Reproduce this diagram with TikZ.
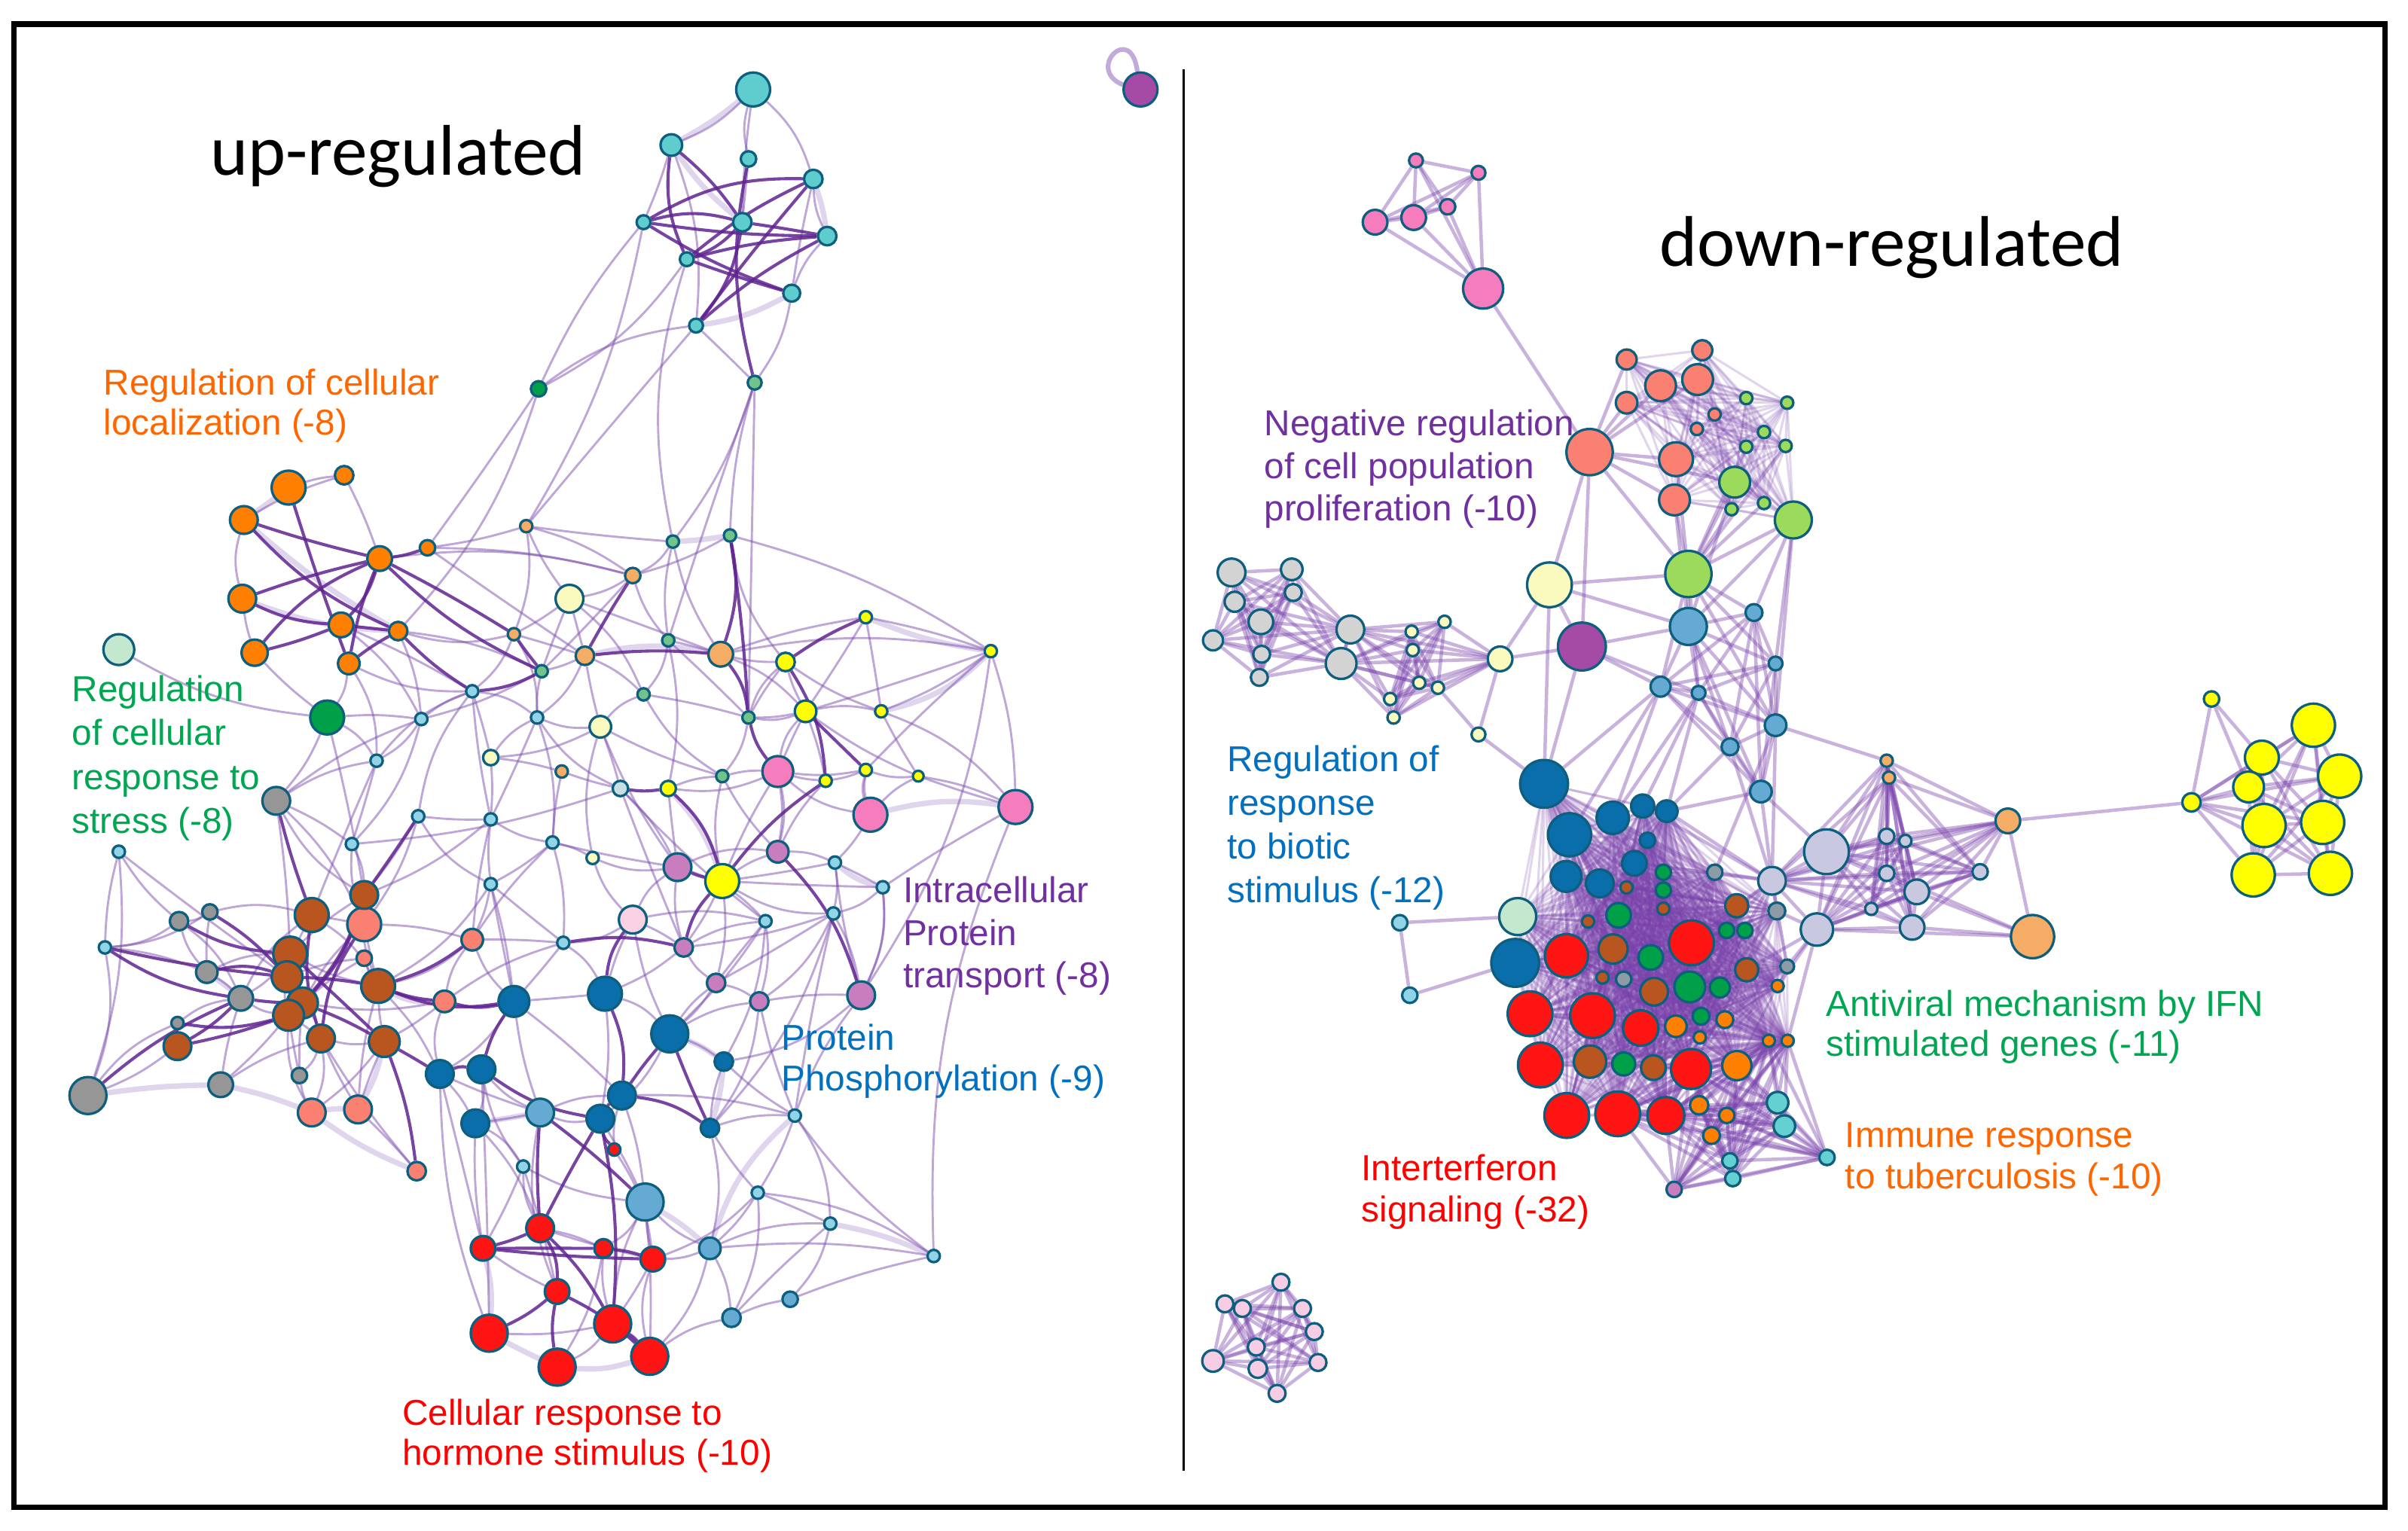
\documentclass[tikz,border=0pt]{standalone}
\usepackage{fontspec}
\setmainfont{Liberation Sans}
\newfontfamily\titlefont{Carlito}
\usetikzlibrary{backgrounds}
\definecolor{ring}{RGB}{14,94,126}
\definecolor{cyanT}{RGB}{95,205,205}
\definecolor{cyanS}{RGB}{145,212,232}
\definecolor{greenS}{RGB}{112,196,138}
\definecolor{dgreen}{RGB}{0,160,72}
\definecolor{nodepurple}{RGB}{165,75,165}
\definecolor{orangeN}{RGB}{255,128,0}
\definecolor{palegreen}{RGB}{195,232,205}
\definecolor{lorange}{RGB}{245,172,100}
\definecolor{pyel}{RGB}{250,250,190}
\definecolor{yel}{RGB}{255,255,0}
\definecolor{lgcy}{RGB}{200,222,228}
\definecolor{pinkN}{RGB}{245,125,190}
\definecolor{greyN}{RGB}{150,150,150}
\definecolor{mauve}{RGB}{200,125,190}
\definecolor{lpink}{RGB}{250,210,228}
\definecolor{salmon}{RGB}{250,128,114}
\definecolor{brownN}{RGB}{185,85,30}
\definecolor{dblue}{RGB}{10,110,170}
\definecolor{lblue}{RGB}{100,170,210}
\definecolor{redN}{RGB}{255,20,20}
\definecolor{lgreen}{RGB}{155,218,90}
\definecolor{lgrey}{RGB}{211,211,211}
\definecolor{lavender}{RGB}{200,200,225}
\definecolor{cyanR}{RGB}{100,208,210}
\definecolor{ltpink}{RGB}{246,205,228}
\definecolor{greyB}{RGB}{140,155,165}
\definecolor{edS}{RGB}{95,35,145}
\definecolor{edL}{RGB}{125,80,175}
\definecolor{edW}{RGB}{150,115,195}
\definecolor{edR}{RGB}{120,65,170}
\definecolor{labOrange}{RGB}{255,102,0}
\definecolor{labGreen}{RGB}{0,166,81}
\definecolor{labPurple}{RGB}{112,48,160}
\definecolor{labBlue}{RGB}{0,112,192}
\definecolor{labRed}{RGB}{255,0,0}
\newcommand\mkclique[2]{%
  \foreach \ca [count=\ci] in {#2}{%
    \foreach \cb [count=\cj] in {#2}{%
      \ifnum\ci<\cj \draw[#1] (\ca) -- (\cb);\fi}}}
\newcommand\edgeset[2]{%
  \foreach \ea/\eb in {#2}{%
    \pgfmathsetmacro\eg{rand*16}%
    \draw[#1] (\ea) to[bend left=\eg] (\eb);}}
\newcommand\labtext[2]{\vtop{\baselineskip=#1\relax #2}}
\begin{document}
\begin{tikzpicture}[x=1pt,y=-1pt,
  n/.style={circle,draw=ring,line width=1.6pt,inner sep=0pt,minimum size=#1},
  es/.style={draw=edS,line width=2pt,opacity=0.85},
  el/.style={draw=edL,line width=1.4pt,opacity=0.5},
  ew/.style={draw=edW,line width=3.5pt,opacity=0.3},
  er/.style={draw=edR,line width=2.2pt,opacity=0.4},
  erd/.style={draw=edR,line width=1.5pt,opacity=0.22},
  lab/.style={inner sep=0pt,anchor=base west,font=\fontsize{23.3pt}{26pt}\selectfont},
  ttl/.style={inner sep=0pt,anchor=base west,font=\titlefont\fontsize{46.5pt}{50pt}\selectfont}]
\useasboundingbox (0,0) rectangle (1560.3,992.2);
\pgfmathsetseed{4242}
\draw[line width=3.5pt] (9,15.6) rectangle (1545.5,976.7);
\draw[line width=1.2pt] (767,45) -- (767,953);
% ---------------- left panel nodes ----------------
\foreach \q/\x/\y/\s in {c1/488/58/22,c2/435/94/14,c3/485/103/10,c4/527/116/12,c5/417/144/9,c6/481/144/12,c7/536/153/12,c8/445/168/9,c9/513/190/11,c10/451/211/9}
  \node[n=\s,fill=cyanT] (\q) at (\x,\y) {};
\foreach \q/\x/\y/\s in {c11/489/248/9,m2/436/351/8,m3/473/347/8,m7/433/415/8,m10/351/435/8,m15/417/450/8,m21/485/465/8,m26/468/503/8}
  \node[n=\s,fill=greenS] (\q) at (\x,\y) {};
\foreach \q/\x/\y/\s in {g1/349/252/10,dg1/212/465/22}
  \node[n=\s,fill=dgreen] (\q) at (\x,\y) {};
\node[n=22,fill=nodepurple] (pl) at (739,58) {};
\foreach \q/\x/\y/\s in {o1/187/316/22,o2/223/308/12,o3/158/337/18,o4/157/388/18,o5/165/423/17,o6/246/362/16,o7/277/355/10,o8/221/405/16,o9/258/409/12,o10/226/430/14}
  \node[n=\s,fill=orangeN] (\q) at (\x,\y) {};
\node[n=20,fill=palegreen] (lg1) at (77,421) {};
\foreach \q/\x/\y/\s in {m1/341/341/8,m4/410/373/10,m6/333/411/8,m8/467/424/16,m9/379/425/12,m23/364/500/8}
  \node[n=\s,fill=lorange] (\q) at (\x,\y) {};
\foreach \q/\x/\y/\s in {m5/369/388/18,m20/389/471/14,m22/318/491/10,m39/384/556/8}
  \node[n=\s,fill=pyel] (\q) at (\x,\y) {};
\foreach \q/\x/\y/\s in {m11/561/400/8,m12/642/422/8,m13/509/429/12,m16/522/461/14,m17/571/461/8,m25/433/511/10,m28/535/506/8,m29/561/499/8,m30/595/503/7,y1/468/571/22}
  \node[n=\s,fill=yel] (\q) at (\x,\y) {};
\foreach \q/\x/\y/\s in {m14/306/448/8,m18/273/466/8,m19/348/465/8,m33/244/493/8,m34/77/552/8,m35/271/529/8,m36/318/531/8,m37/228/547/8,m38/358/546/8,m40/318/573/8,m41/541/559/8,m42/572/575/8,m43/540/592/8,m44/496/597/8,m45/365/611/8,m46/68/614/8,m48/339/756/8,m49/491/773/8,m50/538/793/8,m51/605/814/8,m52/515/723/8}
  \node[n=\s,fill=cyanS] (\q) at (\x,\y) {};
\node[n=10,fill=lgcy] (m24) at (402,511) {};
\foreach \q/\x/\y/\s in {m27/504/500/20,m31/564/528/22,m32/658/523/22}
  \node[n=\s,fill=pinkN] (\q) at (\x,\y) {};
\foreach \q/\x/\y/\s in {gr1/179/519/18,gr2/116/597/12,gr3/136/591/10,gr4/134/630/14,gr5/156/647/16,m47/115/663/8,gr6/57/710/24,gr7/143/703/16,gr8/194/697/10}
  \node[n=\s,fill=greyN] (\q) at (\x,\y) {};
\foreach \q/\x/\y/\s in {p1/439/562/18,p2/504/552/14,p3/443/614/12,p4/464/637/12,p5/492/649/12,p6/558/645/18}
  \node[n=\s,fill=mauve] (\q) at (\x,\y) {};
\node[n=18,fill=lpink] (lp1) at (410,596) {};
\foreach \q/\x/\y/\s in {s1/306/609/14,s2/236/599/22,s3/236/621/10,s4/288/649/14,s5/202/721/18,s6/232/719/18,s7/270/759/12}
  \node[n=\s,fill=salmon] (\q) at (\x,\y) {};
\foreach \q/\x/\y/\s in {b1/236/580/18,b2/202/593/22,b3/188/618/22,b4/186/633/20,b5/245/639/22,b6/196/650/20,b7/187/658/20,b8/208/673/18,b9/249/675/20,b10/115/678/18}
  \node[n=\s,fill=brownN] (\q) at (\x,\y) {};
\foreach \q/\x/\y/\s in {bl1/333/649/20,bl2/392/644/22,bl3/434/670/24,bl4/469/688/12,bl5/285/696/18,bl6/312/693/18,bl7/403/710/18,bl8/308/728/18,bl9/389/725/18,bl10/460/731/12}
  \node[n=\s,fill=dblue] (\q) at (\x,\y) {};
\foreach \q/\x/\y/\s in {lb1/350/721/18,lb2/418/779/24,lb3/460/809/14,lb4/512/842/10,lb5/474/854/12}
  \node[n=\s,fill=lblue] (\q) at (\x,\y) {};
\foreach \q/\x/\y/\s in {rs1/398/745/8,r1/350/796/18,r2/313/809/16,r3/391/809/12,r4/423/816/16,r5/361/837/16,r6/317/864/24,r7/397/858/24,r8/361/886/24,r9/421/879/24}
  \node[n=\s,fill=redN] (\q) at (\x,\y) {};
% ---------------- right panel nodes ----------------
\foreach \q/\x/\y/\s in {pk1/917.5/104/9,pk2/958/112/9,pk3/891/144/16,pk4/916/141/16,pk5/938/134/10,pk6/961/187/26}
  \node[n=\s,fill=pinkN] (\q) at (\x,\y) {};
\foreach \q/\x/\y/\s in {sa1/1030/293/30,sa2/1054/233/13,sa3/1103/227/13,sa4/1076/250/20,sa5/1100/246/20,sa6/1054/261/14,sa7/1111/268.6/8,sa8/1099.5/278/8,sa9/1086/297.6/22,sa10/1085/324/20}
  \node[n=\s,fill=salmon] (\q) at (\x,\y) {};
\foreach \q/\x/\y/\s in {gn1/1131.5/258/8,gn2/1158/261/8,gn3/1143/280/8,gn4/1131.5/289.5/8,gn5/1157/289/8,gn6/1124/312.5/20,gn7/1122/330/8,gn8/1143/326/8,gn9/1162/337/24,gn10/1094/372/30}
  \node[n=\s,fill=lgreen] (\q) at (\x,\y) {};
\foreach \q/\x/\y/\s in {py1/1004/379/29,py2/972/427/16,py3/958/476/9,py4/914.7/409.4/8,py5/915.4/421.3/8,py6/936/403/8,py7/919.6/442.5/8,py8/931.7/445.7/8,py9/900.8/453/8,py10/903/465/8}
  \node[n=\s,fill=pyel] (\q) at (\x,\y) {};
\node[n=31,fill=nodepurple] (pu1) at (1025,419) {};
\foreach \q/\x/\y/\s in {lbl1/1094/406/24,lbl2/1136.5/397/11,lbl3/1150.5/430/9,lbl4/1076/445/13,lbl5/1100.6/449/9,lbl6/1150.5/470/14,lbl7/1121/484/11,lbl8/1141/513/14}
  \node[n=\s,fill=lblue] (\q) at (\x,\y) {};
\foreach \q/\x/\y/\s in {gy1/798/371/18,gy2/837/369/14,gy3/800/390/13,gy4/838/384/11,gy5/817/403/16,gy6/786/415/13,gy7/817.5/424/11,gy8/816/439/11,gy9/875/408/18,gy10/869/430/20}
  \node[n=\s,fill=lgrey] (\q) at (\x,\y) {};
\foreach \q/\x/\y/\s in {db1/1000.5/508/31,db2/1017/541/28,db3/1045/530/21,db4/1064.4/522.4/15,db5/1080/525.7/14,db6/1067.5/544.6/10,db7/1059/559.5/16,db8/1014.8/568/20,db9/1036.6/572.5/18,db10/981.8/624/31}
  \node[n=\s,fill=dblue] (\q) at (\x,\y) {};
\node[n=24,fill=palegreen] (pg1) at (983.4,594) {};
\foreach \q/\x/\y/\s in {sb1/1053.9/575.1/8,sb2/1029/597.2/8,sb3/1038.4/633.5/8,sb4/1077.8/588.9/8,br1/1045.2/615/19,br2/1071.8/642.7/18,br3/1030.3/688/21,br4/1071.3/691.9/16,br5/1125.3/587/15,br6/1131.8/628.5/15}
  \node[n=\s,fill=brownN] (\q) at (\x,\y) {};
\foreach \q/\x/\y/\s in {gg1/1048.8/593.2/16,gg2/1069.6/620.5/16,gg3/1094.9/639.6/20,gg4/1114.4/640/13,gg5/1102.2/658.6/11,gg6/1052.1/689.5/15,gg7/1077.8/565.3/10,gg8/1077.8/576.9/10,gg9/1118.8/603/10,gg10/1130.6/603/10}
  \node[n=\s,fill=dgreen] (\q) at (\x,\y) {};
\foreach \q/\x/\y/\s in {gs1/1052.1/634.6/10,gs2/1111.1/565.3/10,gs3/1151.3/590.4/11,gs4/1158/626.3/9}
  \node[n=\s,fill=greyB] (\q) at (\x,\y) {};
\foreach \q/\x/\y/\s in {rd1/1015/619.4/28,rd2/1096/611/29,rd3/991.4/657/29,rd4/1031.9/658.2/29,rd5/1063.1/666.2/23,rd6/998.1/690.2/29,rd7/1095.7/692.8/26,rd8/1015.2/722.9/29,rd9/1048.2/721.8/29,rd10/1079.4/722.9/24}
  \node[n=\s,fill=redN] (\q) at (\x,\y) {};
\foreach \q/\x/\y/\s in {or1/1085.9/665.1/14,or2/1125.4/690.6/19,or3/1117.6/660.8/11,or4/1101.4/672.3/8,or5/1146.1/674.5/8,or6/1158.3/674.5/8,or7/1151.8/639/8,or8/1101/716.3/12,or9/1118.9/722.9/10,or10/1109/735.9/11}
  \node[n=\s,fill=orangeN] (\q) at (\x,\y) {};
\foreach \q/\x/\y/\s in {cy1/1151.8/714.6/14,cy2/1156.2/729.8/14,cy3/1120.9/752.3/10,cy4/1122.8/763.8/10,cy5/1183.8/750.1/10}
  \node[n=\s,fill=cyanR] (\q) at (\x,\y) {};
\node[n=10,fill=mauve] (mv1) at (1084.8,770.8) {};
\foreach \q/\x/\y/\s in {cs1/907/598/10,cs2/913.5/645/10}
  \node[n=\s,fill=cyanS] (\q) at (\x,\y) {};
\foreach \q/\x/\y/\s in {lav1/1183.5/552/29,lav2/1148.2/570.8/18,lav3/1177.3/602.4/21,ls1/1222.5/542/10,ls2/1234.6/545/8,ls3/1222.5/566/10,ls4/1242/578/16,ls5/1239/601/16,ls6/1212.5/589/8,ls7/1283/565/10}
  \node[n=\s,fill=lavender] (\q) at (\x,\y) {};
\foreach \q/\x/\y/\s in {lo1/1301/532/16,lo2/1317/607/28,os1/1222.5/493/8,os2/1224/504/8}
  \node[n=\s,fill=lorange] (\q) at (\x,\y) {};
\foreach \q/\x/\y/\s in {yy1/1433/453/10,yy2/1499/470/28,yy3/1465.6/491/22,yy4/1516/503/28,yy5/1457/510/20,yy6/1420/520/12,yy7/1467/535/28,yy8/1505/533/28,yy9/1460/567/28,yy10/1510/566/28}
  \node[n=\s,fill=yel] (\q) at (\x,\y) {};
\foreach \q/\x/\y/\s in {bq1/830/831/11,bq2/793.7/845/11,bq3/805/848/11,bq4/844/848/11,bq5/851.6/863/11,bq6/814/873/11,bq7/786/882/14,bq8/815/887/12,bq9/854/883/11,bq10/827.5/903/11}
  \node[n=\s,fill=ltpink] (\q) at (\x,\y) {};
% ---------------- edges ----------------
\begin{pgfonlayer}{background}
\draw[draw=edW,line width=3pt,opacity=0.6] (pl.165) .. controls (703,45) and (733,14) .. (pl.100);
% left panel
\edgeset{ew}{c4/c7,c9/c10,c1/c2,o1/o3,o4/o9,m2/m3,m31/m32,gr6/gr7,gr7/s5,s5/s6,s7/s5,bl3/bl4,m50/m51,m52/lb3,r2/r6,r6/r8,r7/r9,bl4/bl10,r8/r9,m11/m12,c2/c6,o3/o9,b5/s4,m25/y1,m12/m17,m8/m9,gr4/gr5,s6/b9,lb2/lb3,bl8/lb1,m41/m42,b1/s2}
\edgeset{el}{c1/c2,c1/c3,c1/c4,c1/c6,c2/c5,c2/c10,c9/c11,c10/c11,c5/g1,c10/g1,c11/m3,c11/m2,c3/c6,c4/c7,c7/c9,c4/c9,c8/m2,c5/m1,
g1/o9,g1/o7,o1/o2,o2/o3,o3/o4,o4/o5,lg1/dg1,o5/dg1,o10/dg1,o2/o6,o7/m4,o9/m18,
m1/m4,m1/m6,m1/m5,m2/m4,m3/m4,m2/m7,m3/m13,m4/m5,m4/m10,m5/m15,m5/m10,m6/m9,m7/m8,m9/m15,m9/m19,m10/m18,m10/m19,m8/m12,m11/m16,m11/m12,m11/m17,m12/m17,m12/m29,m13/m16,m13/m17,m16/m17,m16/m30,m17/m30,m16/m28,m16/m27,m15/m26,m15/m20,m15/m21,m21/m26,m25/m26,m25/m27,m26/m27,m27/m28,m27/m29,m28/m29,m29/m30,m27/m31,m26/y1,y1/p2,y1/m42,y1/m41,y1/p4,y1/m43,p2/m41,m41/p6,m41/m42,m42/p6,m43/p6,m43/p5,m44/p5,m44/p4,p3/p4,p3/lp1,p3/m43,p4/p5,p5/p6,p1/lp1,p1/m24,lp1/m45,m45/s1,m45/bl2,m44/bl3,p4/bl3,m20/m24,m20/m39,m19/m22,m14/m22,m18/m33,m22/m36,m22/m23,m23/m38,m23/m24,m36/m38,m38/m39,m35/m36,m35/m40,m36/m40,m37/m33,m37/b1,m33/gr1,gr1/dg1,gr1/m37,m39/p1,m38/p1,m40/s1,m40/m45,m14/m35,m18/m37,
m34/m46,m34/gr2,m34/gr6,m34/b4,gr2/gr5,gr3/b2,gr4/gr5,gr5/b7,gr6/b10,gr7/gr5,gr7/b8,gr8/b7,gr8/b8,s5/b7,s5/b9,s6/b9,s6/b5,s7/s6,b5/m40,s2/s1,s2/b6,s3/b6,m46/gr6,m46/gr3,b3/b5,s1/bl1,s4/bl5,s4/m45,
bl1/bl5,bl1/bl2,bl1/lb1,bl1/bl7,bl2/bl3,bl2/bl9,bl3/bl4,bl4/bl10,bl5/bl8,bl6/bl8,bl6/lb1,bl7/rs1,bl8/lb1,lb1/bl9,bl9/lb2,m48/bl8,m48/r1,m48/lb2,bl7/m52,bl10/m52,m52/m49,m52/m51,m49/m50,m49/lb3,m49/lb5,m50/lb4,m50/lb5,lb4/lb5,lb3/lb5,lb3/lb2,lb2/r4,lb2/r3,lb5/r9,bl8/r2,bl5/r2,m48/r2,lb1/r5,bl6/r6,rs1/r4,
r1/r3,r1/r4,r2/r5,r8/r7,r4/r9,r6/r7,r3/r8,r4/r7,
m32/m17,m32/m12,m32/m30,p6/m52,m52/p5,m31/m29,m31/m41,p6/m12,m51/m32,bl4/m52,p2/m27,m44/bl4,lp1/bl3,m45/bl1,m6/m14,m1/o7,
m24/m37,m19/m36,m21/m13,m8/m16,m20/m26,m7/m25,m14/m33,m36/s1,m35/b1,m22/m20,m39/lp1,m38/m45,m40/bl1,m5/m8,m24/m44,m19/m24,m9/m20,p1/m44,m43/bl10,m42/m32,p5/bl10,m30/m32,
o9/m6,o8/m14,o10/m14,o9/m10,o6/m4,o7/m9,o8/m18,o10/m33,dg1/m18,dg1/b1,dg1/m33,gr1/b1,gr1/b3,gr1/m18,m14/m19,m18/m14,m19/m20,m14/m36,m19/m38,m6/m19,m9/m10,m4/m7,m7/m15,m7/m21,m8/m13,m13/m21,m16/m21,m12/m16,m11/m8,m5/m9,m5/m6,m2/m8,m3/m12,m1/m2,c10/m1,c8/g1,c11/m7,
m20/p1,m24/p3,m25/p1,m26/p2,m21/m16,m27/p2,m28/p2,m29/m31,m30/m31,m27/m16,y1/m27,y1/p3,m41/m43,m42/m43,p2/p1,p1/p3,p4/m43,p6/m42,m44/p3,m44/lp1,s1/m38,m38/m40,m36/b1,m35/s2,m33/b2,gr1/s2,m37/s2,b2/s2,b1/b3,b2/b4,b3/b6,b4/b7,b6/b8,b5/b9,b8/b9,b7/b8,s3/b4,s3/b5,s2/b5,b1/b5,b2/b5,b3/b4,gr5/b3,gr5/b2,gr4/b3,gr2/gr3,gr2/gr4,gr3/gr4,m46/gr4,m46/gr2,gr5/m47,gr6/m47,gr7/b7,gr8/b6,gr8/s5,s5/b8,s6/b8,s7/b8,s4/b9,s4/b6,s1/b5,s1/s4,bl5/b5,bl1/m40,bl2/p3,bl2/lp1,bl3/p4,bl3/p5,bl3/bl9,bl7/lb2,bl10/lb3,bl10/m49,bl4/p6,lb1/bl5,lb1/bl7,bl8/r1,bl5/r6,lb2/r7,lb2/r9,lb3/r9,lb3/r4,m49/r4,m48/r5,m48/bl6,r3/r7,m51/lb3,m51/lb4,m50/lb3,m49/m51,m52/m50,m52/m43}
\edgeset{es}{c2/c6,c5/c6,c5/c7,c5/c4,c8/c4,c8/c7,c8/c6,c10/c6,c10/c4,c10/c7,c3/c11,c6/c7,c2/c8,c5/c9,c8/c9,
o1/o10,o3/o6,o3/o9,o4/o6,o4/o8,o5/o6,o8/o6,o6/o7,o10/o6,o8/o9,o10/o9,o5/o8,o6/m10,o9/m14,o6/m6,
m3/m8,m3/m21,m4/m9,m6/m10,m9/m8,m10/m14,m13/m28,m24/m25,m25/y1,y1/p1,y1/m28,p2/p6,p3/y1,m8/m21,m16/m29,m11/m13,m21/m27,
gr1/b2,m46/gr5,m46/b4,gr3/b4,gr5/b6,b10/b7,b10/gr5,gr6/gr5,s7/b9,b5/s4,b4/b5,b1/b6,b2/b8,b3/b9,s2/b8,gr2/b3,gr4/b4,m47/b7,b6/b9,b1/b7,b5/bl1,b9/bl5,s4/bl1,b5/s1,b1/m35,
bl2/bl7,bl3/bl10,bl5/bl6,bl6/bl9,bl7/bl9,bl9/rs1,bl9/r1,lb1/lb2,bl7/bl10,bl1/bl6,bl3/bl7,m45/p3,lp1/bl2,
r1/r5,r2/r4,r5/r6,r5/r9,r5/r8,r7/r9,r1/r7,bl9/r7,lb1/r1,r1/r2,r3/r4,r2/r3}
\draw[el] (c11) -- (m21);
% right panel
\mkclique{er}{pk1,pk2,pk3,pk4,pk5,pk6}
\draw[er] (pk6) -- (sa1);
\mkclique{erd}{sa2,sa3,sa4,sa5,sa6,sa7,sa8,sa9,sa10,gn1,gn2,gn3,gn4,gn5,gn6,gn7,gn8,gn9}
\foreach \t in {sa2,sa4,sa5,sa6,sa9,sa10,gn6,gn10,pu1,py1}{\draw[er] (sa1) -- (\t);}
\foreach \t in {sa9,sa10,gn6,gn7,gn8,gn9,gn4,gn5,py1,lbl1,lbl2,lbl3,lbl4,lbl5,lbl6}{\draw[er] (gn10) -- (\t);}
\foreach \t in {lbl1,lbl2,lbl3,lbl6}{\draw[er] (gn9) -- (\t);}
\draw[er] (gn6) -- (lbl1); \draw[er] (sa10) -- (lbl1);
\mkclique{er}{lbl1,lbl2,lbl3,lbl4,lbl5,lbl6,lbl7,lbl8}
\foreach \t in {py2,lbl1,db1,pu1}{\draw[er] (py1) -- (\t);}
\foreach \t in {lbl1,lbl4,py2,db1,lbl5}{\draw[er] (pu1) -- (\t);}
\draw[er] (py2) -- (py3); \draw[er] (py3) -- (db1); \draw[er] (py3) -- (py8);
\mkclique{er}{gy1,gy2,gy3,gy4,gy5,gy6,gy7,gy8,gy9,gy10}
\mkclique{er}{gy9,gy10,py4,py5,py6,py7,py8,py9,py10,py2}
\mkclique{erd}{db1,db2,db3,db4,db5,db6,db7,db8,db9,db10,pg1,rd1,rd2,rd3,rd4,rd5,rd6,rd7,rd8,rd9,rd10,br1,br2,br3,br4,br5,br6,sb1,sb2,sb3,sb4,gg1,gg2,gg3,gg4,gg5,gg6,gg7,gg8,gg9,gg10,gs1,gs2,gs3,gs4,or1,or2,or3,or4,or5,or6,or7}
\mkclique{er}{rd7,rd10,rd9,or2,or8,or9,or10,cy1,cy2,cy3,cy4,cy5,mv1,or5,or6}
\draw[er] (pg1) -- (cs1); \draw[er] (cs1) -- (cs2); \draw[er] (cs2) -- (db10);
\foreach \a/\b in {lbl4/db1,lbl4/db3,lbl5/db4,lbl5/db5,lbl7/db5,lbl7/lav2,lbl6/lav2,lbl8/lav2,lbl8/db5,lbl8/lav1,lbl6/os1,lbl6/gs2,lbl4/db2,lbl5/db3}{\draw[er] (\a) -- (\b);}
\mkclique{er}{lav1,lav2,lav3,ls1,ls2,ls3,ls4,ls5,ls6,ls7,lo1,os1,os2}
\foreach \t in {gs2,br5,gs3,rd2,gg9,gg10,db5,db4,br6,gs4,db7}{\draw[er] (lav2) -- (\t);}
\foreach \t in {gs3,gs4,or7,br6,or6}{\draw[er] (lav3) -- (\t);}
\foreach \a/\b in {lo1/yy6,lo1/lo2,lo2/ls4,lo2/ls5,lo2/lav3,lo2/ls3}{\draw[er] (\a) -- (\b);}
\mkclique{er}{yy2,yy3,yy4,yy5,yy6,yy7,yy8,yy9,yy10}
\foreach \t in {yy6,yy3,yy5}{\draw[er] (yy1) -- (\t);}
\mkclique{er}{bq1,bq2,bq3,bq4,bq5,bq6,bq7,bq8,bq9,bq10}
\end{pgfonlayer}
% ---------------- labels ----------------
\node[ttl] (tup) at (136,113.6) {up-regulated};
\node[ttl] (tdown) at (1075,172.7) {down-regulated};
\node[lab,text=labOrange] (l1) at (67,256) {\labtext{25.7pt}{\hbox{Regulation of cellular}\hbox{localization (-8)}}};
\node[lab,text=labGreen] (l2) at (46.5,454.5) {\labtext{28.5pt}{\hbox{Regulation}\hbox{of cellular}\hbox{response to}\hbox{stress (-8)}}};
\node[lab,text=labPurple] (l3) at (585,585) {\labtext{27.5pt}{\hbox{Intracellular}\hbox{Protein}\hbox{transport (-8)}}};
\node[lab,text=labBlue] (l4) at (506,680.5) {\labtext{26.5pt}{\hbox{Protein}\hbox{Phosphorylation (-9)}}};
\node[lab,text=labRed] (l5) at (260.5,923.5) {\labtext{26pt}{\hbox{Cellular response to}\hbox{hormone stimulus (-10)}}};
\node[lab,text=labPurple] (l6) at (819,282.5) {\labtext{27.5pt}{\hbox{Negative regulation}\hbox{of cell population}\hbox{proliferation (-10)}}};
\node[lab,text=labBlue] (l7) at (795,500) {\labtext{28.3pt}{\hbox{Regulation of}\hbox{response}\hbox{to biotic}\hbox{stimulus (-12)}}};
\node[lab,text=labGreen] (l8) at (1183,658.4) {\labtext{26pt}{\hbox{Antiviral mechanism by IFN}\hbox{stimulated genes (-11)}}};
\node[lab,text=labOrange] (l9) at (1195.5,743.6) {\labtext{26.7pt}{\hbox{Immune response}\hbox{to tuberculosis (-10)}}};
\node[lab,text=labRed] (l10) at (882,765) {\labtext{27pt}{\hbox{Interterferon}\hbox{signaling (-32)}}};
\end{tikzpicture}
\end{document}
